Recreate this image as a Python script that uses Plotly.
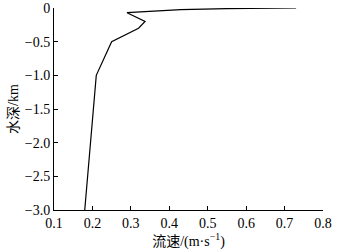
import plotly.graph_objects as go

speed = [0.18, 0.21, 0.25, 0.32, 0.337, 0.29, 0.43, 0.55, 0.73]
depth = [-3.0, -1.0, -0.5, -0.3, -0.2, -0.07, -0.025, -0.01, 0.0]

x_ticks = [0.1, 0.2, 0.3, 0.4, 0.5, 0.6, 0.7, 0.8]
x_labels = ["0.1", "0.2", "0.3", "0.4", "0.5", "0.6", "0.7", "0.8"]
y_ticks = [0, -0.5, -1.0, -1.5, -2.0, -2.5, -3.0]
y_labels = ["0", "\u22120.5", "\u22121.0", "\u22121.5", "\u22122.0", "\u22122.5", "\u22123.0"]

serif = "Liberation Serif, Times New Roman, serif"
cjk = "Liberation Serif, Noto Sans CJK SC, serif"

fig = go.Figure()
fig.add_trace(go.Scatter(x=speed, y=depth, mode="lines",
                         line=dict(color="black", width=1.2), showlegend=False))

fig.update_layout(
    width=342, height=251,
    margin=dict(l=54, r=19, t=8, b=41),
    paper_bgcolor="white", plot_bgcolor="white",
    font=dict(family=serif, size=14, color="black"),
)
fig.update_xaxes(
    range=[0.1, 0.8], tickvals=x_ticks, ticktext=x_labels, automargin=False,
    showline=True, linecolor="black", linewidth=1, mirror=False,
    ticks="inside", ticklen=4, tickcolor="black", showgrid=False, zeroline=False,
    tickfont=dict(family=serif, size=14),
    title=dict(text="流速/(m·s<sup>−1</sup>)", font=dict(family=cjk, size=14), standoff=0),
)
fig.update_yaxes(
    range=[-3.0, 0], tickvals=y_ticks, ticktext=y_labels, automargin=False,
    showline=True, linecolor="black", linewidth=1, mirror=False,
    ticks="inside", ticklen=4, tickcolor="black", showgrid=False, zeroline=False,
    tickfont=dict(family=serif, size=14),
    title=dict(text="水深/km", font=dict(family=cjk, size=14), standoff=2),
)
fig.write_html("out.html", config={"displayModeBar": False},
               post_script="document.body.style.margin='0px';")
